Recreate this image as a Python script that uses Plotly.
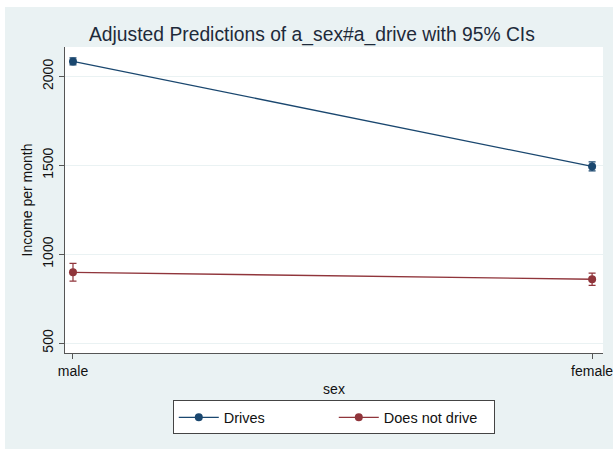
import plotly.graph_objects as go

# Adjusted predictions (margins) of income by sex and driving status
sex_levels = ["male", "female"]
drives_margin = [2085, 1494]
drives_ci_half = [20, 25]
nodrive_margin = [898, 859]
nodrive_ci_half = [50, 35]

NAVY = "#1a476f"
MAROON = "#90353b"
BG = "#eaf2f3"
FONT = "Liberation Sans, Arial, Helvetica, sans-serif"

x_pos = list(range(len(sex_levels)))

fig = go.Figure()
fig.add_trace(go.Scatter(
    x=x_pos, y=drives_margin, name="Drives", mode="lines+markers",
    line=dict(color=NAVY, width=1.3),
    marker=dict(color=NAVY, size=8, symbol="circle"),
    error_y=dict(type="data", array=drives_ci_half, color=NAVY, thickness=1.2, width=3.5),
))
fig.add_trace(go.Scatter(
    x=x_pos, y=nodrive_margin, name="Does not drive", mode="lines+markers",
    line=dict(color=MAROON, width=1.3),
    marker=dict(color=MAROON, size=8, symbol="circle"),
    error_y=dict(type="data", array=nodrive_ci_half, color=MAROON, thickness=1.2, width=3.5),
))

# graph region background (plot area spans x 65..603, y 47..353 px)
fig.add_shape(type="rect", xref="paper", yref="paper",
              x0=-0.1115, x1=1.03, y0=-0.33, y1=1.1307,
              fillcolor=BG, line=dict(width=0), layer="below")
fig.add_shape(type="rect", xref="paper", yref="paper",
              x0=0, x1=1, y0=0, y1=1,
              fillcolor="white", line=dict(width=0), layer="below")

fig.update_layout(
    width=613, height=449,
    margin=dict(l=65, r=10, t=47, b=96, autoexpand=False),
    paper_bgcolor="white", plot_bgcolor="rgba(0,0,0,0)",
    font=dict(family=FONT, size=14, color="#111111"),
    title=dict(text="Adjusted Predictions of a_sex#a_drive with 95% CIs",
               x=0.459, xref="paper", xanchor="center",
               y=1 - 34 / 449, yref="container", yanchor="middle",
               font=dict(size=19.3, color="#1e2a3a", family=FONT)),
    showlegend=True,
    legend=dict(orientation="h", x=0.4996, xanchor="center", y=-0.155, yanchor="top",
                bgcolor="white", bordercolor="#444444", borderwidth=1,
                font=dict(size=14.5, color="#111111"),
                entrywidth=105, itemwidth=40, tracegroupgap=0),
)

fig.update_xaxes(
    range=[-0.0154, 1.021], tickmode="array", tickvals=x_pos, ticktext=sex_levels,
    automargin=False, ticklabeloverflow="allow",
    showgrid=False, zeroline=False, showline=True, linecolor="#555555", linewidth=1.2,
    ticks="outside", ticklen=5, tickcolor="#555555",
    tickfont=dict(size=14, color="#111111"),
    title=dict(text="sex", font=dict(size=14, color="#111111"), standoff=6),
)
fig.update_yaxes(
    range=[444, 2166], tickmode="array", tickvals=[500, 1000, 1500, 2000],
    automargin=False, ticklabeloverflow="allow",
    tickangle=-90, showgrid=True, gridcolor=BG, gridwidth=1,
    zeroline=False, showline=True, linecolor="#555555", linewidth=1.2,
    ticks="outside", ticklen=5, tickcolor="#555555",
    tickfont=dict(size=14, color="#111111"),
    title=dict(text="Income per month", font=dict(size=14, color="#111111"), standoff=4),
)

fig.write_html("out.html")
